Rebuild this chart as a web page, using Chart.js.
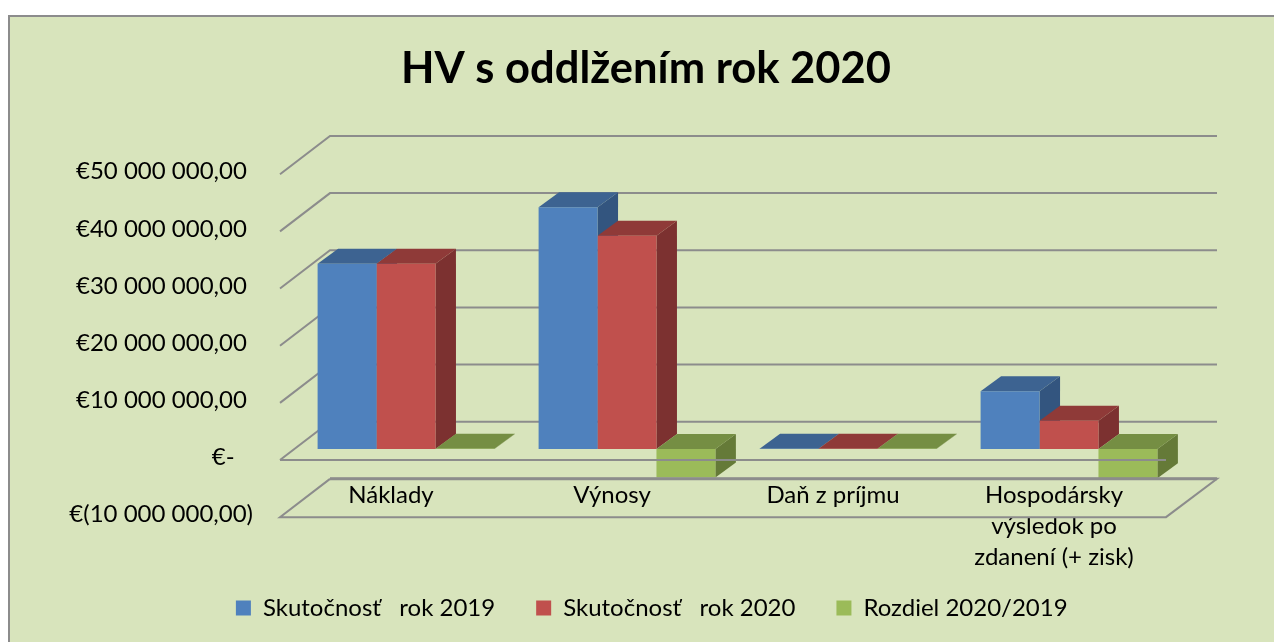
<!DOCTYPE html>
<html><head><meta charset="utf-8">
<style>html,body{margin:0;padding:0;background:#fff;overflow:hidden}canvas{display:block}</style>
<script src="https://cdn.jsdelivr.net/npm/chart.js@4"></script>
</head><body><canvas id="c" width="1274" height="642"></canvas>
<script>
const titleText = 'HV s oddlžením rok 2020';
const categories = ['Náklady', 'Výnosy', 'Daň z príjmu', ['Hospodársky', 'výsledok po', 'zdanení (+ zisk)']];
const seriesNames = ['Skutočnosť   rok 2019', 'Skutočnosť   rok 2020', 'Rozdiel 2020/2019'];
const actual2019 = [32400000, 42300000, 60000, 10100000];
const actual2020 = [32400000, 37300000, 60000, 4950000];
const difference = [30000, -5000000, 30000, -5100000];
const yTickLabels = ['€(10 000 000,00)', '€-', '€10 000 000,00', '€20 000 000,00', '€30 000 000,00', '€40 000 000,00', '€50 000 000,00'];
const yRightPad = [0, 3, 1, 1, 1, 1, 1];
const frontColors = ['#4F81BD', '#C0504D', '#9BBB59'];
const topColors = ['#3D6391', '#8F3A38', '#758E43'];
const sideColors = ['#33557F', '#7C3130', '#657A38'];
const GRID = '#8C8C8C';
const BAR_DX = 20.5, BAR_DY = -15;

function poly(ctx, pts, fill) {
  ctx.beginPath();
  pts.forEach((p, i) => i ? ctx.lineTo(p[0], p[1]) : ctx.moveTo(p[0], p[1]));
  ctx.closePath();
  ctx.fillStyle = fill;
  ctx.fill();
}
function line(ctx, pts, w) {
  ctx.beginPath();
  pts.forEach((p, i) => i ? ctx.lineTo(p[0], p[1]) : ctx.moveTo(p[0], p[1]));
  ctx.lineWidth = w;
  ctx.strokeStyle = GRID;
  ctx.stroke();
}

const frame3d = {
  id: 'frame3d',
  afterLayout(chart) {
    chart.legend.left += 32;
    chart.legend.right += 32;
    chart.titleBlock.left += 26.25;
    chart.titleBlock.right += 26.25;
  },
  beforeDraw(chart) {
    const ctx = chart.ctx;
    ctx.save();
    ctx.fillStyle = '#D8E4BC';
    ctx.fillRect(9, 16, 1265, 626);
    line(ctx, [[9, 642], [9, 16], [1274, 16]], 2);
    ctx.restore();
  },
  beforeDatasetsDraw(chart) {
    const ctx = chart.ctx, a = chart.chartArea, ys = chart.scales.y;
    const fl = a.left - 15.5, bl = a.left + 34.5, br = a.right + 37.5;
    ctx.save();
    ys.ticks.forEach(t => {
      const y = ys.getPixelForValue(t.value);
      if (t.value < 0) return;
      line(ctx, [[fl, y + 11], [bl, y - 27.3], [br, y - 27.3]], 2);
    });
    // depth faces of each bar, from the library's bar elements
    chart.data.datasets.forEach((ds, d) => {
      chart.getDatasetMeta(d).data.forEach(el => {
        const p = el.getProps(['x', 'y', 'base', 'width'], true);
        const l = p.x - p.width / 2, r = p.x + p.width / 2;
        const top = Math.min(p.y, p.base), bot = Math.max(p.y, p.base);
        poly(ctx, [[r, top], [r + BAR_DX, top + BAR_DY], [r + BAR_DX, bot + BAR_DY], [r, bot]], sideColors[d]);
        poly(ctx, [[l, top], [l + BAR_DX, top + BAR_DY], [r + BAR_DX, top + BAR_DY], [r, top]], topColors[d]);
      });
    });
    ctx.restore();
  },
  afterDatasetsDraw(chart) {
    const ctx = chart.ctx, a = chart.chartArea, ys = chart.scales.y;
    const fl = a.left - 15.5, bl = a.left + 34.5, br = a.right + 37.5, fr = a.right - 13.5;
    const y0 = ys.getPixelForValue(0), yMin = ys.getPixelForValue(ys.min);
    ctx.save();
    line(ctx, [[fl, y0 + 11], [fr, y0 + 11]], 2);
    line(ctx, [[bl, yMin - 27.3], [br, yMin - 27.3], [fr, yMin + 11], [fl, yMin + 11], [bl, yMin - 27.3]], 2);
    line(ctx, [[bl, yMin - 27.3], [br, yMin - 27.3]], 3);
    ctx.restore();
  }
};

new Chart(document.getElementById('c'), {
  type: 'bar',
  plugins: [frame3d],
  data: {
    labels: categories,
    datasets: [actual2019, actual2020, difference].map((d, i) => ({
      label: seriesNames[i],
      data: d,
      backgroundColor: frontColors[i],
      categoryPercentage: 0.8,
      barPercentage: 1
    }))
  },
  options: {
    responsive: false,
    animation: false,
    devicePixelRatio: 1,
    layout: { padding: { left: 60, right: 94.5, top: 0, bottom: 12 } },
    plugins: {
      tooltip: { enabled: false },
      title: {
        display: true, text: titleText, color: '#000',
        font: { family: 'Lato', size: 43.5, weight: 'bold' },
        padding: { top: 42.9, bottom: 68.15 }
      },
      legend: {
        position: 'bottom',
        labels: {
          color: '#000', boxWidth: 15, boxHeight: 15, padding: 41,
          font: { family: 'Lato', size: 24 }
        }
      }
    },
    scales: {
      x: {
        grid: { display: false, drawTicks: false },
        border: { display: false },
        afterFit(s) { s.height = 48.85; },
        ticks: {
          color: '#000', font: { family: 'Lato', size: 24, lineHeight: 1.3 },
          mirror: true, padding: -4.35, labelOffset: -15, maxRotation: 0, autoSkip: false
        }
      },
      y: {
        min: -10000000, max: 50000000,
        grid: { display: false, drawTicks: false },
        border: { display: false },
        afterFit(s) { s.width = 235.5; },
        ticks: {
          stepSize: 10000000, color: '#000',
          font: { family: 'Lato', size: 24 },
          padding: 42.5, labelOffset: 8.5,
          callback(v, i) { return yTickLabels[i] + '\u00A0'.repeat(yRightPad[i]); }
        }
      }
    }
  }
});
</script></body></html>
